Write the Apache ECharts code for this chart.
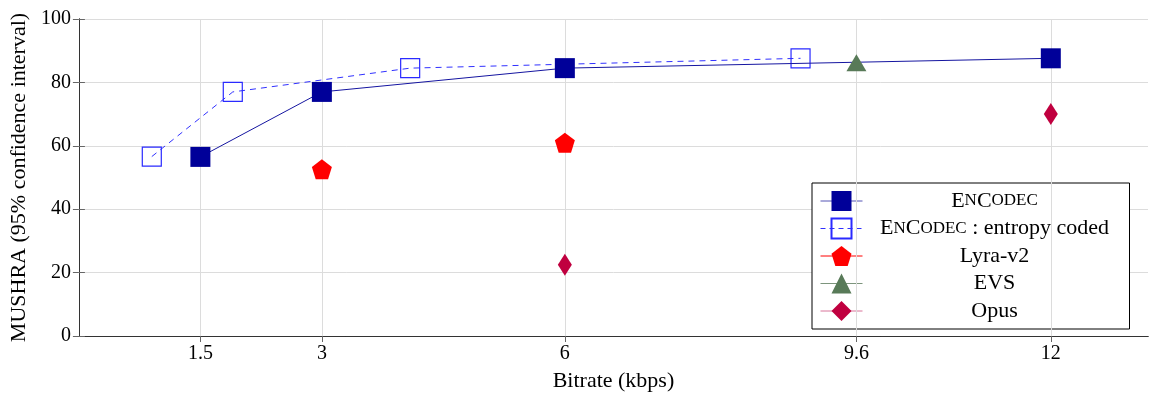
<!DOCTYPE html>
<html>
<head>
<meta charset="utf-8">
<script src="https://cdn.jsdelivr.net/npm/echarts@6/dist/echarts.min.js"></script>
<style>
  html, body { margin: 0; padding: 0; background: #fff; }
  #main { width: 1162px; height: 399px; }
</style>
</head>
<body>
<div id="main"></div>
<script>
// bitrate ticks (kbps)
var xTicks = [1.5, 3, 6, 9.6, 12];
// EnCodec
var encX = [1.5, 3, 6, 12];
var encY = [56.5, 77, 84.5, 87.6];
// EnCodec entropy coded
var entX = [0.9, 1.9, 4.09, 8.91];
var entY = [56.6, 77, 84.5, 87.6];
// Lyra-v2
var lyraX = [3, 6];
var lyraY = [52.6, 61];
// EVS
var evsX = [9.6];
var evsY = [86.2];
// Opus
var opusX = [6, 12];
var opusY = [22.5, 70];

function pairs(xs, ys){
    var out = [];
    for(var i = 0; i < xs.length; i++){
        out.push([xs[i], ys[i]]);
    }
    return out;
}

var FONT = "Liberation Serif";
var pentagon = "path://M0,-1L0.951,-0.309L0.588,0.809L-0.588,0.809L-0.951,-0.309Z";

var mychart = echarts.init(document.getElementById("main"));

//图例文字 小型大写
function legendText(name){
    if(name == "EnCodec") return "{b|E}{s|N}{b|C}{s|ODEC}";
    if(name == "EnCodec : entropy coded") return "{b|E}{s|N}{b|C}{s|ODEC}{b| : entropy coded}";
    return "{b|" + name + "}";
}

var option = {
    animation: false,
    grid: {left: 78, right: 14, top: 19, bottom: 63},
    xAxis: [{
        type: "value", min: 0, max: 13.2, position: "bottom",
        name: "Bitrate (kbps)", nameLocation: "middle", nameGap: 34,
        nameTextStyle: {fontFamily: FONT, fontSize: 22, color: "#000"},
        axisLine: {lineStyle: {color: "#000", width: 1}},
        axisTick: {inside: true, length: 6, customValues: xTicks, lineStyle: {color: "#666"}},
        axisLabel: {customValues: xTicks, fontFamily: FONT, fontSize: 20, color: "#000", margin: 8},
        splitLine: {show: false}
    },{
        type: "value", min: 0, max: 13.2, position: "top",
        axisLine: {show: true, lineStyle: {color: "#333", width: 1}},
        axisTick: {inside: true, length: 6, customValues: xTicks, lineStyle: {color: "#666"}},
        axisLabel: {show: false},
        splitLine: {show: false}
    }],
    yAxis: [{
        type: "value", min: 0, max: 100, interval: 20, position: "left",
        name: "MUSHRA (95% confidence interval)", nameLocation: "middle", nameGap: 40,
        nameTextStyle: {fontFamily: FONT, fontSize: 22, color: "#000"},
        axisLine: {show: true, lineStyle: {color: "#000", width: 1}},
        axisTick: {show: true, inside: true, length: 6, lineStyle: {color: "#666"}},
        axisLabel: {fontFamily: FONT, fontSize: 20, color: "#000", margin: 8},
        splitLine: {lineStyle: {color: "#dcdcdc", width: 1}}
    },{
        type: "value", min: 0, max: 100, interval: 20, position: "right",
        axisLine: {show: true, lineStyle: {color: "#333", width: 1}},
        axisTick: {show: true, inside: true, length: 6, lineStyle: {color: "#666"}},
        axisLabel: {show: false},
        splitLine: {show: false}
    }],
    legend: {
        orient: "vertical", left: 812, top: 183,
        padding: [6, 8, 6, 8],
        itemWidth: 42, itemHeight: 25, itemGap: 3.5,
        borderColor: "#000", borderWidth: 1, backgroundColor: "#fff",
        data: [
            {name: "EnCodec", lineStyle: {color: "#5555b5", width: 1, opacity: 1}},
            {name: "EnCodec : entropy coded", lineStyle: {color: "#3030ff", width: 1, type: [5, 4], opacity: 1}},
            {name: "Lyra-v2", lineStyle: {color: "#ff0000", width: 1, opacity: 1}},
            {name: "EVS", lineStyle: {color: "#7d957d", width: 1, opacity: 1}},
            {name: "Opus", lineStyle: {color: "#d8749a", width: 1, opacity: 1}}
        ],
        formatter: legendText,
        textStyle: {
            width: 254,
            fontFamily: FONT, fontSize: 22, color: "#000", lineHeight: 24,
            rich: {
                b: {fontFamily: FONT, fontSize: 22, align: "center", lineHeight: 24},
                s: {fontFamily: FONT, fontSize: 17, align: "center", lineHeight: 24}
            }
        }
    },
    series: [
        {
            //竖向网格线
            name: "grid", type: "line", data: [], z: 0,
            markLine: {
                silent: true, symbol: ["none", "none"], label: {show: false},
                lineStyle: {color: "#dcdcdc", width: 1, type: "solid"},
                data: xTicks.map(function(v){ return {xAxis: v}; })
            }
        },
        {
            name: "EnCodec", type: "line", data: pairs(encX, encY),
            symbol: "rect", symbolSize: 20,
            lineStyle: {color: "#1515a0", width: 1},
            itemStyle: {color: "#000099"}, z: 5
        },
        {
            name: "EnCodec : entropy coded", type: "line", data: pairs(entX, entY),
            symbol: "rect", symbolSize: 19,
            lineStyle: {color: "#3030ff", width: 1, type: [6, 5]},
            itemStyle: {color: "rgba(0,0,0,0)", borderColor: "#2a2aff", borderWidth: 1.2}, z: 4
        },
        {
            name: "Lyra-v2", type: "line", data: pairs(lyraX, lyraY),
            symbol: pentagon, symbolSize: 20,
            lineStyle: {opacity: 0},
            itemStyle: {color: "#ff0000"}, z: 6
        },
        {
            name: "EVS", type: "line", data: pairs(evsX, evsY),
            symbol: "triangle", symbolSize: [20, 17],
            lineStyle: {opacity: 0},
            itemStyle: {color: "#587a58"}, z: 6
        },
        {
            name: "Opus", type: "line", data: pairs(opusX, opusY),
            symbol: "diamond", symbolSize: [14, 22],
            lineStyle: {opacity: 0},
            itemStyle: {color: "#c0003f"}, z: 6
        }
    ]
};
mychart.setOption(option);
</script>
</body>
</html>
